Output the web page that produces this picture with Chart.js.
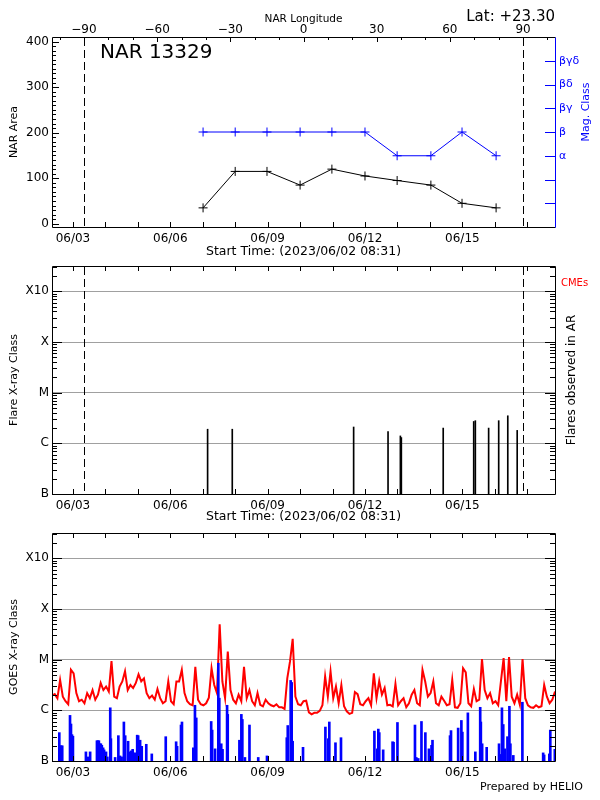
<!DOCTYPE html>
<html><head><meta charset="utf-8">
<script src="https://cdn.jsdelivr.net/npm/chart.js@4/dist/chart.umd.min.js"></script>
<style>
html,body{margin:0;padding:0;background:#fff;width:600px;height:800px;overflow:hidden}
canvas{position:absolute;left:0}
#c1{top:0}#c2{top:262px}#c3{top:530px}
</style></head><body>
<canvas id="c1" width="600" height="262"></canvas>
<canvas id="c2" width="600" height="268"></canvas>
<canvas id="c3" width="600" height="270"></canvas>
<script>
// ================= DATA =================
// time unit: day of June 2023 (UT), plot starts 06/02 08:31
const startTime = 2.3549;
const endTime = 17.8549;
const dateTickDays = [3, 6, 9, 12, 15];
const dateTickLabels = ['06/03', '06/06', '06/09', '06/12', '06/15'];
const startTitle = 'Start Time: (2023/06/02 08:31)';

const lonMin = -103.1, lonMax = 103.1;
const lonTicks = [-90, -60, -30, 0, 30, 60, 90];
const lonTickLabels = ['\u221290', '\u221260', '\u221230', '0', '30', '60', '90'];
const limbLongitudes = [-90, 90];
const limbTimes = [3.345, 16.87];

const areaTicks = [0, 100, 200, 300, 400];
const narDays = [7.01, 8.00, 8.98, 10.00, 10.98, 12.00, 12.99, 14.03, 14.99, 16.04];
const narArea = [35, 115, 115, 85, 120, 105, 95, 85, 45, 35];
const narMagClass = ['β', 'β', 'β', 'β', 'β', 'β', 'α', 'α', 'β', 'α'];
const magClassLabels = ['', '', 'α', 'β', 'βγ', 'βδ', 'βγδ'];

const classLabels = ['B', 'C', 'M', 'X', 'X10'];
const classExponents = [-7, -6, -5, -4, -3];

const flareDays = [7.15, 7.91, 11.65, 12.71, 13.09, 13.12, 14.41, 15.35, 15.40, 15.81, 16.12, 16.40, 16.69];
const flareClasses = ['C1.9', 'C1.9', 'C2.1', 'C1.7', 'C1.4', 'C1.3', 'C2.0', 'C2.7', 'C2.8', 'C2.0', 'C2.8', 'C3.5', 'C1.8'];

// GOES 1-8 A, log10 flux (W/m2), 2-hour cadence from startTime
const goesLongCadence = 1 / 12;
const goesLongLog = [
-5.71,-5.68,-5.76,-5.40,-5.73,-5.82,-5.88,-5.20,-5.27,-5.66,
-5.82,-5.79,-5.86,-5.66,-5.76,-5.60,-5.79,-5.69,-5.46,-5.60,
-5.53,-5.63,-5.03,-5.73,-5.76,-5.53,-5.43,-5.23,-5.60,-5.50,
-5.56,-5.46,-5.29,-5.43,-5.37,-5.66,-5.76,-5.71,-5.79,-5.58,
-5.76,-5.86,-5.82,-5.43,-5.82,-5.88,-5.43,-5.43,-5.20,-5.66,
-5.82,-5.88,-5.90,-5.14,-5.79,-5.88,-5.90,-5.86,-5.75,-5.17,
-5.50,-5.66,-4.30,-5.43,-5.76,-4.84,-5.60,-5.79,-5.86,-5.69,
-5.82,-5.14,-5.76,-5.60,-5.82,-5.90,-5.66,-5.89,-5.92,-5.79,
-5.86,-5.90,-5.92,-5.88,-5.94,-5.94,-5.97,-5.37,-5.04,-4.59,
-5.73,-5.88,-5.90,-5.82,-5.81,-6.04,-6.08,-6.05,-6.05,-6.01,
-5.90,-5.33,-5.73,-5.23,-5.76,-5.53,-5.86,-5.50,-5.92,-6.02,
-6.07,-6.05,-5.64,-5.68,-5.88,-5.90,-5.82,-5.76,-5.90,-5.27,
-5.76,-5.42,-5.69,-5.56,-5.90,-5.89,-5.92,-5.48,-5.90,-5.82,
-5.76,-5.94,-5.86,-5.69,-5.60,-5.86,-5.90,-5.20,-5.43,-5.73,
-5.66,-5.43,-5.86,-5.90,-5.73,-5.81,-5.90,-5.88,-5.40,-5.94,
-5.95,-5.86,-5.17,-5.25,-5.86,-5.92,-5.58,-5.82,-5.79,-4.99,
-5.60,-5.76,-5.66,-5.86,-5.82,-5.90,-5.43,-4.97,-5.82,-4.95,
-5.73,-5.86,-5.69,-5.89,-4.99,-5.76,-5.90,-5.94,-5.95,-5.90,
-5.94,-5.92,-5.50,-5.73,-5.86,-5.79,-5.63
];

// GOES 0.5-4 A peaks above B level, log10 flux
const goesShortDays = [
2.58,2.61,2.64,2.67,2.91,2.94,2.97,3.00,3.40,3.47,3.53,3.74,3.77,3.80,3.83,3.86,3.89,3.93,3.96,4.02,
4.06,4.15,4.17,4.30,4.40,4.45,4.50,4.57,4.61,4.70,4.76,4.80,4.84,4.88,4.94,4.98,5.01,5.07,5.12,5.26,
5.43,5.86,6.18,6.21,6.33,6.36,6.71,6.76,6.80,7.26,7.29,7.38,7.48,7.51,7.57,7.61,7.75,7.77,8.13,8.19,
8.22,8.30,8.44,8.71,8.98,9.59,9.62,9.71,9.74,9.77,10.09,10.78,10.87,10.90,11.09,11.26,12.29,12.38,12.41,12.44,
12.56,12.85,12.88,13.00,13.54,13.58,13.64,13.74,13.86,13.97,14.05,14.08,14.62,14.65,14.87,14.97,15.00,15.17,15.40,15.55,
15.57,15.61,15.75,16.13,16.16,16.22,16.26,16.31,16.39,16.45,16.48,16.57,16.85,17.49,17.52,17.68,17.71,17.85
];
const goesShortLog = [
-6.44,-6.70,-6.70,-6.70,-6.10,-6.27,-6.48,-6.51,-6.82,-6.92,-6.82,-6.60,-6.60,-6.60,-6.66,-6.66,-6.69,-6.74,-6.78,-6.82,
-6.92,-5.95,-6.56,-6.93,-6.50,-6.90,-6.92,-6.23,-6.50,-6.61,-6.82,-6.80,-6.77,-6.84,-6.84,-6.49,-6.50,-6.59,-6.71,-6.67,
-6.86,-6.52,-6.62,-6.71,-6.29,-6.23,-6.74,-5.90,-6.15,-6.22,-6.39,-6.76,-5.07,-5.76,-6.66,-6.77,-5.90,-6.08,-6.59,-6.08,
-6.18,-6.93,-6.29,-6.93,-6.90,-6.54,-6.30,-5.41,-5.45,-6.61,-6.73,-6.33,-6.56,-6.23,-6.64,-6.54,-6.41,-6.76,-6.37,-6.44,
-6.78,-6.62,-6.63,-6.24,-6.29,-6.93,-6.95,-6.22,-6.44,-6.76,-6.69,-6.59,-6.50,-6.40,-6.35,-6.20,-6.43,-6.05,-6.82,-5.94,
-6.23,-6.66,-6.73,-6.66,-6.87,-5.95,-6.28,-6.76,-6.52,-5.92,-6.66,-6.89,-5.84,-6.84,-6.88,-6.86,-6.39,-6.77
];

// ================= HELPERS =================
const FAM = "'DejaVu Sans', sans-serif";
const BLUE = '#0000ff', RED = '#ff0000';
const tickFont = {family: FAM, size: 12};

function fixSize(size) {
  return s => {
    if (s.isHorizontal()) s.height = size; else s.width = size;
    s.paddingTop = 0; s.paddingBottom = 0; s.paddingLeft = 0; s.paddingRight = 0;
  };
}
function flareLog(cls) {
  const letter = cls.charAt(0);
  const mult = parseFloat(cls.slice(1));
  return classExponents[classLabels.indexOf(letter)] + Math.log10(mult);
}

const framePlugin = {
  id: 'frame',
  afterDraw(chart, args, o) {
    const ctx = chart.ctx, a = chart.chartArea;
    ctx.save();
    if (o.limbs) {
      const s = chart.scales[o.limbs.scale];
      ctx.strokeStyle = '#000'; ctx.lineWidth = 1; ctx.setLineDash([8, 4]);
      o.limbs.values.forEach(v => {
        const px = Math.round(s.getPixelForValue(v)) + 0.5;
        ctx.beginPath(); ctx.moveTo(px, a.top + 1); ctx.lineTo(px, a.bottom); ctx.stroke();
      });
      ctx.setLineDash([]);
    }
    (o.ticks || []).forEach(spec => {
      const s = chart.scales[spec.scale];
      ctx.strokeStyle = spec.color || '#000'; ctx.lineWidth = 1;
      s.ticks.forEach(t => {
        const len = t.major ? spec.major : spec.minor;
        const p = Math.round(s.getPixelForValue(t.value)) + 0.5;
        spec.sides.forEach(side => {
          ctx.beginPath();
          if (side === 'bottom') { ctx.moveTo(p, a.bottom); ctx.lineTo(p, a.bottom - len); }
          if (side === 'top') { ctx.moveTo(p, a.top); ctx.lineTo(p, a.top + len); }
          if (side === 'left') { ctx.moveTo(a.left, p); ctx.lineTo(a.left + len, p); }
          if (side === 'right') { ctx.moveTo(a.right, p); ctx.lineTo(a.right - len, p); }
          ctx.stroke();
        });
      });
    });
    const b = o.border || {};
    const L = Math.round(a.left) + 0.5, R = Math.round(a.right) + 0.5;
    const T = Math.round(a.top) + 0.5, B = Math.round(a.bottom) + 0.5;
    const seg = (c, x1, y1, x2, y2) => { ctx.strokeStyle = c; ctx.beginPath(); ctx.moveTo(x1, y1); ctx.lineTo(x2, y2); ctx.stroke(); };
    seg(b.top || '#000', L, T, R, T);
    seg(b.bottom || '#000', L, B, R, B);
    seg(b.left || '#000', L, T, L, B);
    seg(b.right || '#000', R, T, R, B);
    (o.texts || []).forEach(t => {
      ctx.save();
      ctx.font = t.font; ctx.fillStyle = t.color || '#000';
      ctx.textAlign = t.align || 'left'; ctx.textBaseline = t.baseline || 'alphabetic';
      ctx.translate(t.x, t.y); if (t.rotate) ctx.rotate(t.rotate);
      ctx.fillText(t.text, 0, 0);
      ctx.restore();
    });
    ctx.restore();
  }
};

function timeScale(height, titlePadBottom) {
  return {
    type: 'linear', position: 'bottom', min: startTime, max: endTime, offset: false,
    afterBuildTicks: s => {
      const t = [];
      for (let d = Math.ceil(startTime); d <= Math.floor(endTime); d++) t.push({value: d, major: dateTickDays.includes(d)});
      s.ticks = t;
    },
    afterFit: fixSize(height),
    grid: {display: false, drawTicks: false},
    border: {display: false},
    ticks: {autoSkip: false, maxRotation: 0, minRotation: 0, padding: 5, color: '#000', font: tickFont,
      callback: v => { const i = dateTickDays.indexOf(v); return i >= 0 ? dateTickLabels[i] : ''; }},
    title: titlePadBottom === null ? {display: false} :
      {display: true, text: startTitle, color: '#000', font: {family: FAM, size: 12.5}, padding: {top: 0, bottom: titlePadBottom}}
  };
}
function classScale(titleText) {
  return {
    type: 'linear', position: 'left', min: -7, max: -2.5, beginAtZero: false,
    afterBuildTicks: s => {
      const t = [];
      for (let n = -7; n < -2.5; n++) for (let k = 1; k <= 9; k++) {
        const v = n + Math.log10(k);
        if (v <= -2.5) t.push({value: v, major: k === 1});
      }
      s.ticks = t;
    },
    afterFit: fixSize(52),
    grid: {display: true, drawTicks: false, lineWidth: 1,
      color: c => (c.tick && c.tick.major && c.tick.value > -7) ? '#a0a0a0' : 'rgba(0,0,0,0)'},
    border: {display: false},
    ticks: {autoSkip: false, padding: 3, color: '#000', font: tickFont,
      callback: v => { const j = classExponents.indexOf(v); return j >= 0 ? classLabels[j] : ''; }},
    title: {display: true, text: titleText, color: '#000', font: {family: FAM, size: 11}, padding: {top: 8}}
  };
}
const common = {responsive: false, animation: false, devicePixelRatio: 1, events: []};

// ================= PANEL 1 =================
new Chart(document.getElementById('c1'), {
  type: 'line',
  data: {
    datasets: [
      {label: 'NAR Area', xAxisID: 'x', yAxisID: 'y',
        data: narDays.map((d, i) => ({x: d, y: narArea[i]})),
        borderColor: '#000', borderWidth: 1, pointStyle: 'cross', pointRadius: 4.5,
        pointBorderColor: '#000', pointBorderWidth: 1, tension: 0},
      {label: 'Mag. Class', xAxisID: 'x', yAxisID: 'y2',
        data: narDays.map((d, i) => ({x: d, y: magClassLabels.indexOf(narMagClass[i])})),
        borderColor: BLUE, borderWidth: 1, pointStyle: 'cross', pointRadius: 4.5,
        pointBorderColor: BLUE, pointBorderWidth: 1, tension: 0}
    ]
  },
  options: Object.assign({}, common, {
    scales: {
      x: timeScale(35, 2.5),
      lon: {
        type: 'linear', position: 'top', min: lonMin, max: lonMax,
        afterBuildTicks: s => {
          const t = [];
          for (let v = -100; v <= 100; v += 10) t.push({value: v, major: lonTicks.includes(v)});
          s.ticks = t;
        },
        afterFit: fixSize(37),
        grid: {display: false, drawTicks: false}, border: {display: false},
        ticks: {autoSkip: false, maxRotation: 0, padding: 0, color: '#000', font: tickFont,
          callback: v => { const i = lonTicks.indexOf(v); return i >= 0 ? lonTickLabels[i] : ''; }},
        title: {display: true, text: 'NAR Longitude', color: '#000', font: {family: FAM, size: 10.5}, padding: {top: 13, bottom: 0}}
      },
      y: {
        type: 'linear', position: 'left', min: -7, max: 410,
        afterBuildTicks: s => {
          const t = [];
          for (let v = 0; v <= 400; v += 10) t.push({value: v, major: areaTicks.includes(v)});
          s.ticks = t;
        },
        afterFit: fixSize(52),
        grid: {display: false, drawTicks: false}, border: {display: false},
        ticks: {autoSkip: false, padding: 3, color: '#000', font: tickFont,
          callback: v => areaTicks.includes(v) ? String(v) : ''},
        title: {display: true, text: 'NAR Area', color: '#000', font: {family: FAM, size: 11}, padding: {top: 8}}
      },
      y2: {
        type: 'linear', position: 'right', min: -1, max: 7,
        afterBuildTicks: s => {
          const t = [];
          for (let v = 0; v < magClassLabels.length; v++) t.push({value: v, major: true});
          s.ticks = t;
        },
        afterFit: fixSize(45),
        grid: {display: false, drawTicks: false}, border: {display: false},
        ticks: {autoSkip: false, padding: 4, color: BLUE, font: {family: FAM, size: 11},
          callback: v => magClassLabels[v] || ''}
      }
    },
    plugins: {
      legend: {display: false}, tooltip: {enabled: false},
      frame: {
        limbs: {scale: 'lon', values: limbLongitudes},
        ticks: [
          {scale: 'x', sides: ['bottom'], major: 5, minor: 5},
          {scale: 'lon', sides: ['top'], major: 5, minor: 3},
          {scale: 'y', sides: ['left'], major: 7, minor: 4},
          {scale: 'y2', sides: ['right'], major: 10, minor: 10, color: BLUE}
        ],
        border: {right: BLUE},
        texts: [
          {text: 'NAR 13329', x: 100, y: 58, font: '20px ' + FAM},
          {text: 'Lat: +23.30', x: 555, y: 21, font: '15px ' + FAM, align: 'right'},
          {text: 'Mag. Class', x: 586, y: 112, font: '11px ' + FAM, color: BLUE, align: 'center', baseline: 'middle', rotate: -Math.PI / 2}
        ]
      }
    }
  }),
  plugins: [framePlugin]
});

// ================= PANEL 2 =================
new Chart(document.getElementById('c2'), {
  type: 'bar',
  data: {
    datasets: [
      {label: 'Flares', data: flareDays.map((d, i) => ({x: d, y: [-7, flareLog(flareClasses[i])]})),
        backgroundColor: '#000', borderWidth: 0, barThickness: 1}
    ]
  },
  options: Object.assign({}, common, {
    layout: {padding: {top: 4, right: 45, left: 0, bottom: 0}},
    scales: {x: timeScale(36, 5.5), y: classScale('Flare X-ray Class')},
    plugins: {
      legend: {display: false}, tooltip: {enabled: false},
      frame: {
        limbs: {scale: 'x', values: limbTimes},
        ticks: [
          {scale: 'x', sides: ['bottom', 'top'], major: 5, minor: 5},
          {scale: 'y', sides: ['left', 'right'], major: 10, minor: 5}
        ],
        texts: [
          {text: 'CMEs', x: 561, y: 21, font: '10px ' + FAM, color: RED, baseline: 'middle'},
          {text: 'Flares observed in AR', x: 572, y: 118, font: '12px ' + FAM, align: 'center', baseline: 'middle', rotate: -Math.PI / 2}
        ]
      }
    }
  }),
  plugins: [framePlugin]
});

// ================= PANEL 3 =================
new Chart(document.getElementById('c3'), {
  type: 'line',
  data: {
    datasets: [
      {type: 'bar', label: 'GOES 0.5-4 A', order: 0,
        data: goesShortDays.map((d, i) => ({x: d, y: [-7, goesShortLog[i]]})),
        backgroundColor: BLUE, borderWidth: 0, barThickness: 2},
      {type: 'line', label: 'GOES 1-8 A', order: 1,
        data: goesLongLog.map((v, i) => ({x: startTime + i * goesLongCadence, y: v})),
        borderColor: RED, borderWidth: 2, pointRadius: 0, tension: 0}
    ]
  },
  options: Object.assign({}, common, {
    layout: {padding: {top: 3, right: 45, left: 0, bottom: 0}},
    scales: {x: timeScale(39, null), y: classScale('GOES X-ray Class')},
    plugins: {
      legend: {display: false}, tooltip: {enabled: false},
      frame: {
        ticks: [
          {scale: 'x', sides: ['bottom', 'top'], major: 5, minor: 5},
          {scale: 'y', sides: ['left', 'right'], major: 10, minor: 5}
        ],
        texts: [
          {text: 'Prepared by HELIO', x: 583, y: 257, font: '11px ' + FAM, align: 'right', baseline: 'middle'}
        ]
      }
    }
  }),
  plugins: [framePlugin]
});
</script>
</body></html>
